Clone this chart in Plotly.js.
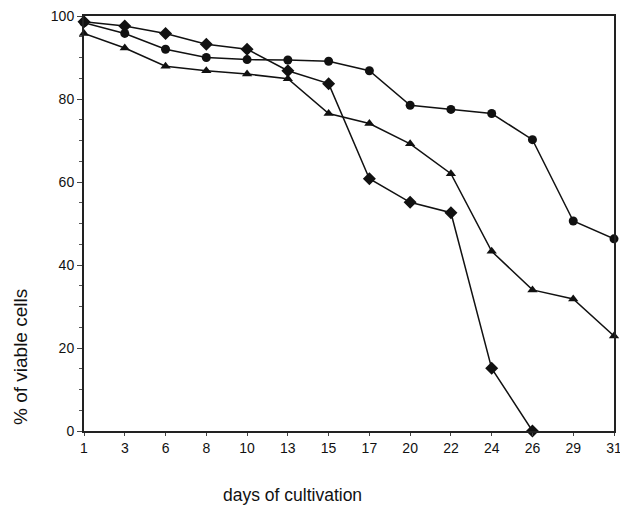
<!DOCTYPE html>
<html>
<head>
<meta charset="utf-8">
<script src="https://cdn.plot.ly/plotly-3.0.1.min.js"></script>
<style>html,body{margin:0;padding:0;background:#fff;}#chart{width:620px;height:508px;}</style>
</head>
<body>
<div id="chart"></div>
<script>
var days = ["1","3","6","8","10","13","15","17","20","22","24","26","29","31"];
var circleSeries   = [98.4, 95.8, 92.0, 90.0, 89.5, 89.4, 89.1, 86.8, 78.5, 77.5, 76.5, 70.2, 50.6, 46.3];
var diamondSeries  = [98.6, 97.6, 95.8, 93.2, 92.0, 86.8, 83.7, 60.8, 55.1, 52.6, 15.1, 0, null, null];
var triangleSeries = [95.8, 92.3, 87.9, 86.8, 86.0, 84.9, 76.5, 74.1, 69.2, 62.0, 43.3, 34.0, 31.8, 22.9];
var yTickVals = [0, 20, 40, 60, 80, 100];
var xTitle = "days of cultivation";
var yTitle = "% of viable cells";

function series(y, sym, size) {
  return {
    x: days, y: y, type: 'scatter', mode: 'lines+markers',
    line: {color: '#111', width: 1.5},
    marker: {symbol: sym, size: size, color: '#111'},
    cliponaxis: false, showlegend: false
  };
}
var data = [
  series(circleSeries, 'circle', 9),
  series(diamondSeries, 'diamond', 10),
  series(triangleSeries, 'triangle-up', 9)
];
var fam = 'Liberation Sans, Arial, sans-serif';
var font = {family: fam, size: 14, color: '#111'};
var layout = {
  width: 620, height: 508,
  margin: {l: 84, r: 6, t: 16, b: 77},
  paper_bgcolor: '#fff', plot_bgcolor: '#fff',
  font: font,
  xaxis: {
    type: 'category', range: [0, 13],
    showgrid: false, zeroline: false,
    showline: true, linecolor: '#222', linewidth: 2, mirror: true,
    ticks: 'outside', ticklen: 3, tickcolor: '#444', tickwidth: 1,
    tickfont: font
  },
  yaxis: {
    range: [0, 100], tickvals: yTickVals,
    showgrid: false, zeroline: false,
    showline: true, linecolor: '#222', linewidth: 2, mirror: true,
    ticks: 'outside', ticklen: 5, tickcolor: '#444', tickwidth: 1,
    minor: {dtick: 5, ticks: 'outside', ticklen: 3, tickcolor: '#555'},
    tickfont: font
  },
  annotations: [
    {text: xTitle, xref: 'paper', yref: 'paper', x: 0.394, y: -0.154,
     xanchor: 'center', yanchor: 'middle', showarrow: false,
     font: {family: fam, size: 17.5, color: '#111'}},
    {text: yTitle, xref: 'paper', yref: 'paper', x: -0.121, y: 0.178,
     xanchor: 'center', yanchor: 'middle', showarrow: false, textangle: -90,
     font: {family: fam, size: 19, color: '#111'}}
  ]
};
Plotly.newPlot('chart', data, layout, {displayModeBar: false, staticPlot: true});
</script>
</body>
</html>
